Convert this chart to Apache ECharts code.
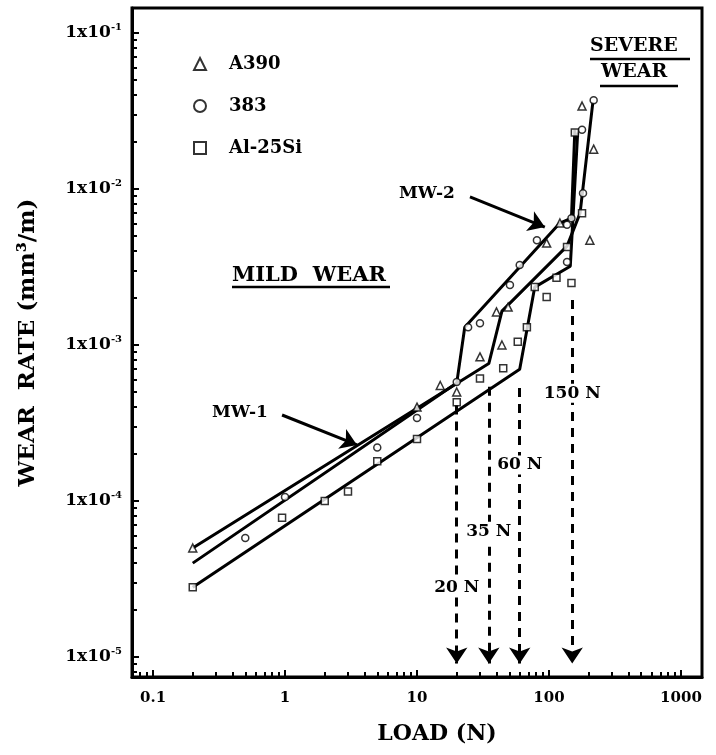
<!DOCTYPE html>
<html><head><meta charset="utf-8">
<script src="https://cdn.jsdelivr.net/npm/echarts@6/dist/echarts.min.js"></script>
<style>html,body{margin:0;padding:0;background:#fff}#c{width:716px;height:755px}</style>
</head><body><div id="c"></div>
<script>
// ---- data (load N, wear rate mm3/m) ----
const seriesNames = ['A390', '383', 'Al-25Si'];
const a390Points = [[0.2,5.0e-5],[10,4.0e-4],[15,5.5e-4],[20,5.0e-4],[30,8.4e-4],[44,1.0e-3],[40,1.63e-3],[49,1.75e-3],[96,4.5e-3],[121,6.05e-3],[178,3.4e-2],[204,4.7e-3],[218,1.8e-2]];
const p383Points = [[0.5,5.8e-5],[1,1.06e-4],[5,2.2e-4],[10,3.4e-4],[20,5.8e-4],[24.4,1.3e-3],[30,1.38e-3],[50.6,2.42e-3],[60,3.26e-3],[81,4.7e-3],[137,5.9e-3],[137,3.4e-3],[148,6.5e-3],[181,9.4e-3],[178,2.4e-2],[218,3.7e-2]];
const al25SiPoints = [[0.2,2.8e-5],[0.95,7.8e-5],[2,1.0e-4],[3,1.15e-4],[5,1.8e-4],[10,2.5e-4],[20,4.3e-4],[30,6.1e-4],[45,7.1e-4],[58,1.05e-3],[68,1.3e-3],[78,2.35e-3],[96,2.03e-3],[114,2.7e-3],[148,2.5e-3],[137,4.25e-3],[178,7.0e-3],[157,2.3e-2]];
const a390Fit = [[0.2,5.0e-5],[35,7.6e-4],[44,1.65e-3],[137,4.3e-3],[172,7.0e-3],[215,3.6e-2]];
const p383Fit = [[0.2,4.0e-5],[20,5.7e-4],[23,1.3e-3],[121,6.05e-3],[148,6.5e-3],[157,2.4e-2]];
const al25SiFit = [[0.2,2.8e-5],[60,7.0e-4],[78,2.35e-3],[145,3.2e-3],[165,2.3e-2]];
const transitionLoads = [20, 35, 60, 150];
const transitionTexts = ['20 N', '35 N', '60 N', '150 N'];
const transitionTopRates = [4.1e-4, 5.4e-4, 5.3e-4, 1.94e-3];
const transitionTextRates = [2.8e-5, 6.4e-5, 1.7e-4, 4.9e-4];
const arrowTipRate = 9.1e-6;
const mwTexts = ['MW-1', 'MW-2'];
const mwTextPoints = [[0.456, 3.67e-4], [11.9, 9.4e-3]];
const mw1Arrow = [[0.95,3.56e-4],[3.51,2.29e-4]];
const mw2Arrow = [[25.2,8.9e-3],[93,5.7e-3]];
const xTickLabels = [0.1, 1, 10, 100, 1000];
const yTickLabels = [1e-5, 1e-4, 1e-3, 1e-2, 1e-1];
const xRange = [0.0693, 1443];
const yRange = [7.45e-6, 0.1445];

const FONT = 'DejaVu Serif';
const hollow = {color: '#fff', borderColor: '#000', borderWidth: 1.5};
const fitStyle = {color: '#000', width: 3};
const tickStyle = {color: '#000', width: 2};

const chart = echarts.init(document.getElementById('c'));
chart.setOption({
  animation: false,
  grid: {left: 132, right: 14, top: 8, bottom: 78, show: true, borderColor: '#000', borderWidth: 3, containLabel: false},
  legend: {
    data: seriesNames, orient: 'vertical', left: 188, top: 50, itemWidth: 12, itemHeight: 12, itemGap: 24,
    textStyle: {fontFamily: FONT, fontWeight: 'bold', fontSize: 18, color: '#000', padding: [0,0,0,18]}
  },
  xAxis: {
    type: 'log', logBase: 10, min: xRange[0], max: xRange[1],
    axisLine: {lineStyle: {color: '#000', width: 3}},
    axisTick: {show: true, inside: true, length: 7, lineStyle: tickStyle},
    minorTick: {show: true, splitNumber: 9, length: 5, lineStyle: tickStyle},
    axisLabel: {customValues: xTickLabels, margin: 14, fontFamily: FONT, fontWeight: 'bold', fontSize: 15, color: '#000',
      formatter: v => (v < 1 ? v.toFixed(1) : String(Math.round(v)))},
    splitLine: {show: false},
    name: 'LOAD (N)', nameLocation: 'middle', nameGap: 46,
    nameTextStyle: {fontFamily: FONT, fontWeight: 'bold', fontSize: 22, color: '#000', padding: [0,0,0,40]}
  },
  yAxis: {
    type: 'log', logBase: 10, min: yRange[0], max: yRange[1],
    axisLine: {lineStyle: {color: '#000', width: 3}},
    axisTick: {show: true, inside: true, length: 7, lineStyle: tickStyle},
    minorTick: {show: true, splitNumber: 9, length: 5, lineStyle: tickStyle},
    axisLabel: {customValues: yTickLabels, margin: 10,
      formatter: v => '{m|1x10}{s|' + Math.round(Math.log10(v)) + '}',
      rich: {m: {fontFamily: FONT, fontWeight: 'bold', fontSize: 17, color: '#000', lineHeight: 22},
             s: {fontFamily: FONT, fontWeight: 'bold', fontSize: 10, color: '#000', verticalAlign: 'top', lineHeight: 22}}},
    splitLine: {show: false},
    name: 'WEAR  RATE (mm³/m)', nameLocation: 'middle', nameGap: 92, nameRotate: 90,
    nameTextStyle: {fontFamily: FONT, fontWeight: 'bold', fontSize: 23, color: '#000'}
  },
  series: [
    {name: 'A390 fit', type: 'line', data: a390Fit, symbol: 'none', lineStyle: fitStyle, z: 2},
    {name: '383 fit', type: 'line', data: p383Fit, symbol: 'none', lineStyle: fitStyle, z: 2},
    {name: 'Al-25Si fit', type: 'line', data: al25SiFit, symbol: 'none', lineStyle: fitStyle, z: 2},
    {name: 'A390', type: 'scatter', data: a390Points, symbol: 'triangle', symbolSize: 8, itemStyle: hollow, z: 4},
    {name: '383', type: 'scatter', data: p383Points, symbol: 'circle', symbolSize: 7, itemStyle: hollow, z: 4},
    {name: 'Al-25Si', type: 'scatter', data: al25SiPoints, symbol: 'rect', symbolSize: 7, itemStyle: hollow, z: 4},
    {
      name: 'annotations', type: 'scatter', symbolSize: 1, z: 6, silent: true, itemStyle: {color: '#000', opacity: 1},
      data: transitionLoads.map((x, i) => ({name: transitionTexts[i], value: [x, transitionTextRates[i]]}))
        .concat(mwTexts.map((t, i) => ({name: t, value: mwTextPoints[i]}))),
      label: {show: true, position: 'inside', formatter: p => p.name, fontFamily: FONT, fontWeight: 'bold', fontSize: 17,
        color: '#000', opacity: 1, textBorderWidth: 0, backgroundColor: '#fff', padding: [1, 1]},
      emphasis: {disabled: true},
      markLine: {
        silent: true, symbol: ['none', 'arrow'], symbolSize: 16, label: {show: false},
        lineStyle: {color: '#000', width: 3, type: [9, 7]},
        data: transitionLoads.map((x, i) => [{coord: [x, transitionTopRates[i]]}, {coord: [x, arrowTipRate]}])
          .concat([
            [{coord: mw1Arrow[0], lineStyle: {type: 'solid'}}, {coord: mw1Arrow[1]}],
            [{coord: mw2Arrow[0], lineStyle: {type: 'solid'}}, {coord: mw2Arrow[1]}]
          ])
      }
    }
  ],
  graphic: [
    {type: 'text', left: 232, top: 265, style: {text: 'MILD  WEAR', font: 'bold 21px "DejaVu Serif"', fill: '#000'}},
    {type: 'line', shape: {x1: 232, y1: 287, x2: 390, y2: 287}, style: {stroke: '#000', lineWidth: 2.5}},
    {type: 'text', left: 590, top: 37, style: {text: 'SEVERE', font: 'bold 19px "DejaVu Serif"', fill: '#000'}},
    {type: 'line', shape: {x1: 590, y1: 59, x2: 690, y2: 59}, style: {stroke: '#000', lineWidth: 2.5}},
    {type: 'text', left: 601, top: 63, style: {text: 'WEAR', font: 'bold 19px "DejaVu Serif"', fill: '#000'}},
    {type: 'line', shape: {x1: 600, y1: 86, x2: 678, y2: 86}, style: {stroke: '#000', lineWidth: 2.5}}
  ]
});
</script></body></html>
